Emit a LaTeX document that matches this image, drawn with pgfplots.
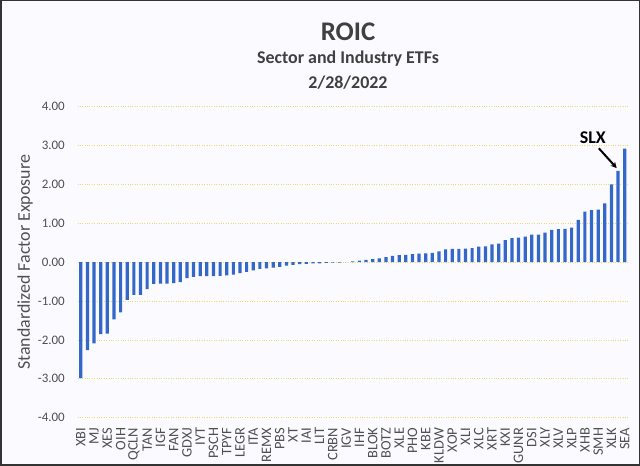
\documentclass[border=0pt]{standalone}
\usepackage{pgfplots}
\pgfplotsset{compat=1.18}
\usetikzlibrary{arrows.meta}
\usepackage{fontspec}
\setmainfont{Carlito}
\definecolor{barblue}{RGB}{52,104,200}
\definecolor{gridy}{RGB}{232,222,110}
\definecolor{txtgray}{RGB}{80,80,80}
\definecolor{titlegray}{RGB}{64,64,64}
\definecolor{bg}{RGB}{251,251,255}
\pgfplotstableread{
x y
1 -2.98
2 -2.26
3 -2.09
4 -1.85
5 -1.84
6 -1.47
7 -1.29
8 -0.97
9 -0.84
10 -0.84
11 -0.69
12 -0.56
13 -0.55
14 -0.55
15 -0.54
16 -0.51
17 -0.41
18 -0.38
19 -0.36
20 -0.36
21 -0.36
22 -0.35
23 -0.34
24 -0.32
25 -0.28
26 -0.25
27 -0.21
28 -0.17
29 -0.16
30 -0.14
31 -0.12
32 -0.09
33 -0.07
34 -0.05
35 -0.04
36 -0.03
37 -0.03
38 -0.02
39 -0.01
40 -0.01
41 0.00
42 0.02
43 0.04
44 0.06
45 0.08
46 0.10
47 0.13
48 0.16
49 0.18
50 0.19
51 0.21
52 0.22
53 0.23
54 0.24
55 0.28
56 0.33
57 0.34
58 0.34
59 0.35
60 0.36
61 0.40
62 0.41
63 0.46
64 0.48
65 0.57
66 0.62
67 0.63
68 0.66
69 0.71
70 0.71
71 0.76
72 0.83
73 0.85
74 0.86
75 0.89
76 1.09
77 1.30
78 1.34
79 1.35
80 1.51
81 2.00
82 2.35
83 2.92
}\roicdata
\begin{document}
\begin{tikzpicture}[x=1bp,y=1bp]
\fill[bg] (0,0) rectangle (640,466);
\useasboundingbox (0,0) rectangle (640,466);
\begin{axis}[
  at={(77.5bp,48.3bp)}, anchor=south west,
  scale only axis, width=550.5bp, height=311bp,
  xmin=0.5, xmax=83.5, ymin=-4, ymax=4,
  ybar, bar width=3.2bp,
  axis line style={draw=none},
  major tick length=0pt,
  ytick={-4,-3,...,4},
  yticklabels={-4.00,-3.00,-2.00,-1.00,0.00,1.00,2.00,3.00,4.00},
  xtick={1,3,...,83},
  xticklabels={XBI,MJ,XES,OIH,QCLN,TAN,IGF,FAN,GDXJ,IYT,PSCH,TPYF,LEGR,ITA,REMX,PBS,XT,IAI,LIT,CRBN,IGV,IHF,BLOK,BOTZ,XLE,PHO,KBE,KLDW,XOP,XLI,XLC,XRT,KXI,GUNR,DSI,XLY,XLV,XLP,XHB,SMH,XLK,SEA},
  ymajorgrids, grid style={gridy, dotted, line width=0.8bp},
  ticklabel style={text=txtgray},
  yticklabel style={inner sep=0pt, font=\fontsize{13}{13}\selectfont},
  yticklabel shift=12.5bp,
  xticklabel style={rotate=90, anchor=east, inner sep=0pt, font=\fontsize{14.5}{14.5}\selectfont},
  xticklabel shift=10bp,
  every axis y label/.style={at={(axis description cs:-0.0954,0.5)}, rotate=90, anchor=center},
  ylabel={Standardized Factor Exposure},
  ylabel style={font=\fontsize{18}{18}\selectfont, text=txtgray},
  clip=false,
]
\addplot[fill=barblue, draw=none] table[x=x,y=y] {\roicdata};
\node[font=\bfseries\fontsize{18}{18}\selectfont, text=black] at (axis cs:78.2,3.2) {SLX};
\draw[-{Stealth[length=6bp,width=6bp]}, line width=2bp] (axis cs:79.1,2.93) -- (axis cs:81.8,2.42);
\end{axis}
\node[font=\bfseries\fontsize{27}{27}\selectfont, text=titlegray, anchor=base] at (348,425) {ROIC};
\node[font=\bfseries\fontsize{18}{18}\selectfont, text=titlegray, anchor=base] at (348,402) {Sector and Industry ETFs};
\node[font=\bfseries\fontsize{18}{18}\selectfont, text=titlegray, anchor=base] at (348,377) {2/28/2022};
\draw[line width=1.5bp, black!80] (0.75,0.75) rectangle (639.25,465.25);
\end{tikzpicture}
\end{document}
